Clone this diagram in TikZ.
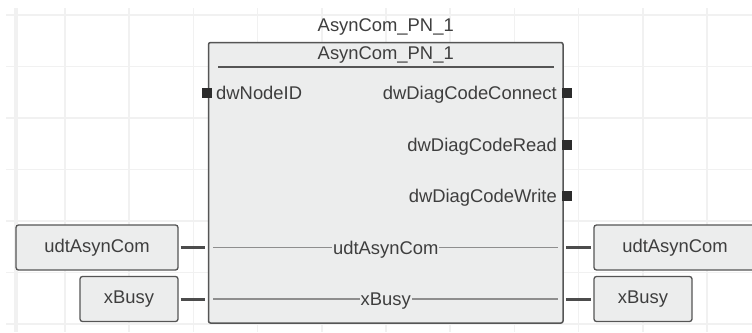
\documentclass[tikz,border=0pt]{standalone}
\usepackage{fontspec}
\setmainfont{Liberation Sans}
\usepackage{xcolor}
\usetikzlibrary{positioning}
\definecolor{gridline}{HTML}{F1F1F1}
\definecolor{boxfill}{HTML}{ECEDED}
\definecolor{boxline}{HTML}{555555}
\definecolor{txt}{HTML}{3E3E3E}
\definecolor{pinfill}{HTML}{2C2C2C}
\definecolor{wire}{HTML}{8E8E8E}
\tikzset{
  fbblock/.style={
    draw=boxline,
    fill=boxfill,
    rectangle,
    rounded corners=2pt,
    line width=1.5pt,
    inner sep=0pt
  },
  varbox/.style={
    draw=boxline,
    fill=boxfill,
    rectangle,
    rounded corners=2.5pt,
    line width=1.3pt,
    minimum height=45pt,
    inner sep=0pt
  },
  pinsq/.style={
    fill=pinfill,
    rectangle,
    minimum size=10pt,
    inner sep=0pt
  },
  lbl/.style={
    inner sep=0pt,
    text=txt
  },
  stub/.style={
    draw=boxline!90!black,
    line width=3pt,
    shorten <=2pt,
    shorten >=2.5pt
  },
  inwire/.style={
    draw=wire,
    line width=1.2pt,
    shorten <=5.5pt,
    shorten >=5.5pt
  }
}

\begin{document}
\begin{tikzpicture}[x=1pt, y=-1pt, font=\fontsize{18.4}{20}\selectfont]
  \useasboundingbox (0,0) rectangle (752,332);
  \fill[white] (0,0) rectangle (752,332);

  \foreach \i in {0,...,10}
    \draw[gridline, line width=1.5pt] ({65+64.2*\i},8) -- ({65+64.2*\i},332);
  \draw[gridline, line width=4pt] (16,8) -- (16,332);
  \foreach \i in {0,...,6}
    \draw[gridline, line width=1.5pt] (6,{15+51.5*\i}) -- (752,{15+51.5*\i});

  \node[fbblock, minimum width=354.5pt, minimum height=280.5pt] (fb) at (385.75,182.75) {};
  \node[lbl, anchor=base] (title) at (385.75,31.5) {AsynCom\_PN\_1};
  \node[lbl, anchor=base] (name) at (385.75,59) {AsynCom\_PN\_1};
  \draw[boxline, line width=1.5pt] (218,67) -- (554,67);

  \node[pinsq] (pNode) at (206.5,93) {};
  \node[pinsq] (pConn) at (566.5,93) {};
  \node[pinsq] (pRead) at (566.5,144.5) {};
  \node[pinsq] (pWrite) at (566.5,196) {};
  \node[lbl, anchor=base west] (lNode) at (216,99.5) {dwNodeID};
  \node[lbl, anchor=base east] (lConn) at (557,99.5) {dwDiagCodeConnect};
  \node[lbl, anchor=base east] (lRead) at (557,151) {dwDiagCodeRead};
  \node[lbl, anchor=base east] (lWrite) at (557,202.5) {dwDiagCodeWrite};

  \node[varbox, minimum width=162pt] (inCom) at (97,247.5) {};
  \node[lbl] at (inCom) {udtAsynCom};
  \node[varbox, minimum width=98pt] (inBusy) at (129,299) {};
  \node[lbl] at (inBusy) {xBusy};
  \node[varbox, minimum width=162pt] (outCom) at (675,247.5) {};
  \node[lbl] at (outCom) {udtAsynCom};
  \node[varbox, minimum width=98pt] (outBusy) at (643,299) {};
  \node[lbl] at (outBusy) {xBusy};

  \draw[stub] (inCom.east) -- (inCom.east -| fb.west);
  \draw[stub] (inBusy.east) -- (inBusy.east -| fb.west);
  \draw[stub] (outCom.west -| fb.east) -- (outCom.west);
  \draw[stub] (outBusy.west -| fb.east) -- (outBusy.west);

  \draw[inwire] (inCom.east -| fb.west) -- (outCom.west -| fb.east);
  \draw[inwire] (inBusy.east -| fb.west) -- (outBusy.west -| fb.east);
  \node[lbl, fill=boxfill, inner xsep=1pt, anchor=base] (vCom) at (385.75,254) {udtAsynCom};
  \node[lbl, fill=boxfill, inner xsep=1pt, anchor=base] (vBusy) at (385.75,305.5) {xBusy};
\end{tikzpicture}
\end{document}
